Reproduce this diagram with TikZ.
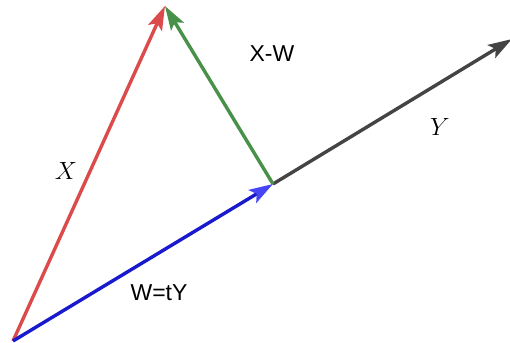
\documentclass[tikz,border=0pt]{standalone}
\usepackage{fontspec}
\setsansfont{Liberation Sans}
\usetikzlibrary{arrows.meta}
\definecolor{vred}{RGB}{220,75,75}
\definecolor{vgreen}{RGB}{72,145,72}
\definecolor{vblue}{RGB}{25,25,205}
\definecolor{vgray}{RGB}{68,68,68}
\definecolor{vbluehead}{RGB}{70,70,245}
\begin{document}
\begin{tikzpicture}[x=1pt,y=-1pt,
  vec/.style={line width=3.4pt,line cap=butt,-{Stealth[length=24pt,width=15pt,inset=5pt]}},
  sanslbl/.style={font=\sffamily\fontsize{23}{23}\selectfont,inner sep=0pt},
  mathlbl/.style={font=\fontsize{27}{27}\selectfont,inner sep=0pt}]
\useasboundingbox (0,0) rectangle (510,342);
\coordinate (O) at (13,341);
\coordinate (Xt) at (165,6);
\coordinate (Wt) at (273,184);
\coordinate (Yt) at (512,39);
\draw[vec,vgray] (Wt) -- (Yt);
\draw[vec,vred] (O) -- (Xt);
\draw[vec,vgreen] (Wt) -- (Xt);
\draw[line width=3.4pt,vblue,-{Stealth[length=24pt,width=15pt,inset=5pt,fill=vbluehead,color=vbluehead]}] (O) -- (Wt);
\node[mathlbl] (lx) at (66,171) {$X$};
\node[mathlbl] (ly) at (440,127) {$Y$};
\node[sanslbl] (lxw) at (272,54) {X-W};
\node[sanslbl] (lw) at (159,293) {W=tY};
\end{tikzpicture}
\end{document}
